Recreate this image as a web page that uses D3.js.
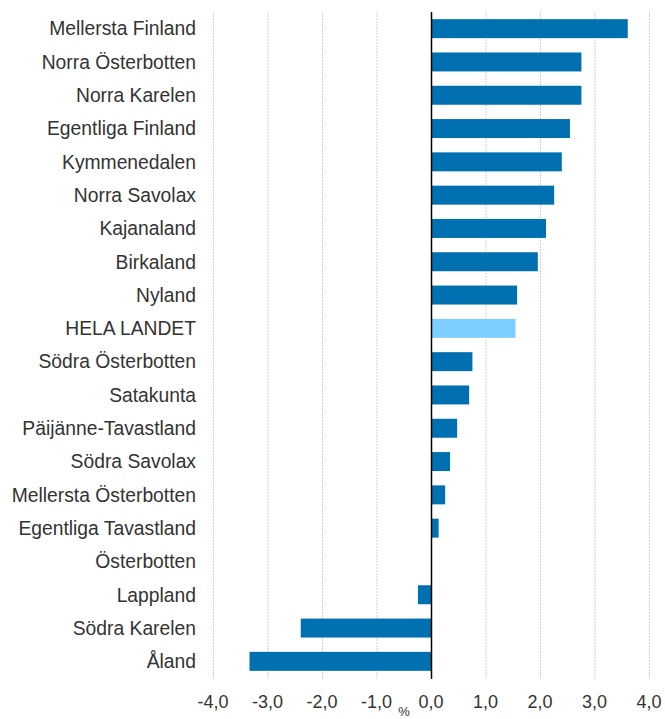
<!DOCTYPE html>
<html>
<head>
<meta charset="utf-8">
<script src="https://cdn.jsdelivr.net/npm/d3@7"></script>
<style>
  body { margin: 0; background: #fff; }
  text { font-family: "Liberation Sans", Arial, sans-serif; }
</style>
</head>
<body>
<div id="chart"></div>
<script>
"use strict";

const width = 665;
const height = 719;

const regions = [
  "Mellersta Finland", "Norra Österbotten", "Norra Karelen", "Egentliga Finland",
  "Kymmenedalen", "Norra Savolax", "Kajanaland", "Birkaland", "Nyland",
  "HELA LANDET", "Södra Österbotten", "Satakunta", "Päijänne-Tavastland",
  "Södra Savolax", "Mellersta Österbotten", "Egentliga Tavastland",
  "Österbotten", "Lappland", "Södra Karelen", "Åland"
];
const values = [
  3.61, 2.76, 2.76, 2.55, 2.40, 2.26, 2.11, 1.96, 1.58,
  1.55, 0.76, 0.70, 0.48, 0.35, 0.26, 0.14,
  0.0, -0.24, -2.39, -3.33
];
const ticks = [-4, -3, -2, -1, 0, 1, 2, 3, 4];
const total = "HELA LANDET";

const data = regions.map(function(r, i) { return { name: r, value: values[i] }; });

const x = d3.scaleLinear().domain([-4, 4]).range([213, 649]);
const y = d3.scaleBand().domain(regions).range([12, 678]).paddingInner(0.43).paddingOuter(0.215);

const svg = d3.select("#chart").append("svg")
  .attr("width", width)
  .attr("height", height);

// gridlines
svg.append("g")
  .selectAll("line")
  .data(ticks.filter(function(t) { return t !== 0; }))
  .join("line")
  .attr("x1", function(d) { return x(d) + 0.5; })
  .attr("x2", function(d) { return x(d) + 0.5; })
  .attr("y1", 12)
  .attr("y2", 679)
  .attr("stroke", "#d0d0d0")
  .attr("stroke-width", 1)
  .attr("stroke-dasharray", "2,1");

// bars
svg.append("g")
  .selectAll("rect")
  .data(data)
  .join("rect")
  .attr("x", function(d) { return x(Math.min(0, d.value)); })
  .attr("y", function(d) { return y(d.name); })
  .attr("width", function(d) { return Math.abs(x(d.value) - x(0)); })
  .attr("height", y.bandwidth())
  .attr("fill", function(d) { return d.name === total ? "#7dcfff" : "#0070b0"; });

// zero line
svg.append("line")
  .attr("x1", x(0) + 0.5)
  .attr("x2", x(0) + 0.5)
  .attr("y1", 12)
  .attr("y2", 679)
  .attr("stroke", "#000")
  .attr("stroke-width", 1.5);

// category labels
svg.append("g")
  .selectAll("text")
  .data(regions)
  .join("text")
  .attr("x", 196)
  .attr("y", function(d) { return y(d) + y.bandwidth() / 2; })
  .attr("dy", "0.35em")
  .attr("text-anchor", "end")
  .attr("font-size", "19.3px")
  .attr("fill", "#333")
  .text(function(d) { return d; });

// x tick labels
svg.append("g")
  .selectAll("text")
  .data(ticks)
  .join("text")
  .attr("x", function(d) { return x(d); })
  .attr("y", 708)
  .attr("text-anchor", "middle")
  .attr("font-size", "18px")
  .attr("fill", "#333")
  .text(function(d) { return d3.format(".1f")(d).replace(".", ",").replace("−", "-"); });

svg.append("text")
  .attr("x", 404)
  .attr("y", 716)
  .attr("text-anchor", "middle")
  .attr("font-size", "13px")
  .attr("fill", "#333")
  .text("%");
</script>
</body>
</html>
